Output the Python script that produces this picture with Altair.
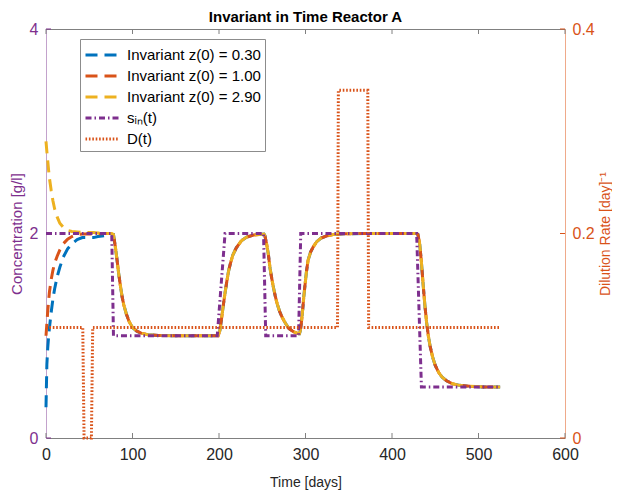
import altair as alt
import pandas as pd

# ---------------- values ----------------
head_t = [0, 1, 2, 3, 4, 6, 8, 10, 13, 16, 20, 25, 30, 36, 42, 55, 60, 68, 76]
blue_head = [0.30, 0.72, 0.88, 0.99, 1.08, 1.23, 1.36, 1.46, 1.58, 1.67, 1.77, 1.85, 1.90, 1.94,
             1.96, 1.96, 1.97, 1.98, 1.99]
orange_head = [1.00, 1.12, 1.24, 1.34, 1.43, 1.55, 1.64, 1.71, 1.78, 1.84, 1.90, 1.945, 1.97, 1.99,
               1.995, 1.995, 1.997, 2.0, 2.0]
yellow_head = [2.90, 2.80, 2.71, 2.62, 2.54, 2.42, 2.32, 2.24, 2.16, 2.10, 2.06, 2.03, 2.02, 2.015,
               2.01, 2.01, 2.005, 2.0, 2.0]

tail_t = [78, 80, 82, 84, 86, 88, 90, 93, 96, 100, 105, 110, 118, 130, 150, 197, 199, 201, 203, 205,
          207, 209, 211, 213, 216, 220, 226, 232, 240, 252, 253, 255, 257, 259, 261, 263, 265, 267, 270, 273,
          277, 281, 286, 292, 293, 294, 295, 296, 297, 298, 299, 301, 303, 306, 309, 313, 318, 324, 332, 345,
          380, 428, 430, 432, 434, 436, 438, 440, 442, 444, 447, 450, 454, 458, 463, 470, 478, 490, 505, 525]
tail_v = [1.99, 1.88, 1.75, 1.61, 1.49, 1.38, 1.30, 1.21, 1.14, 1.08,
          1.045, 1.025, 1.01, 1.003, 1.0, 1.0, 1.0, 1.05, 1.17, 1.30,
          1.42, 1.53, 1.63, 1.70, 1.79, 1.86, 1.93, 1.965, 1.985, 1.995,
          1.98, 1.90, 1.80, 1.66, 1.56, 1.47, 1.39, 1.32, 1.24, 1.18,
          1.12, 1.07, 1.04, 1.02, 1.02, 1.05, 1.11, 1.19, 1.28, 1.38,
          1.46, 1.62, 1.74, 1.82, 1.87, 1.92, 1.955, 1.975, 1.99, 1.998,
          2.0, 2.0, 1.99, 1.90, 1.72, 1.50, 1.30, 1.13, 1.00, 0.90,
          0.79, 0.71, 0.64, 0.595, 0.56, 0.53, 0.515, 0.505, 0.50, 0.50]

sin_t = [0, 76, 78, 198, 207, 251.5, 254, 292, 294.5, 428.5, 434, 525]
sin_v = [2, 2, 1, 1, 2, 2, 1, 1, 2, 2, 0.5, 0.5]

d_t = [0, 42.5, 44, 52.5, 54, 337, 338, 372, 373, 524]
d_v = [0.108, 0.108, 0, 0, 0.108, 0.108, 0.34, 0.34, 0.108, 0.108]

x_ticks = [0, 100, 200, 300, 400, 500, 600]
yl_ticks = [0, 2, 4]
yr_ticks = [0, 0.2, 0.4]

names = ["Invariant z(0) = 0.30", "Invariant z(0) = 1.00", "Invariant z(0) = 2.90",
         "sᵢₙ(t)", "D(t)"]
colors = ["#0072BD", "#D95319", "#EDB120", "#7E2F8E", "#D95319"]
dashes = [[12, 7], [12, 7], [12, 7], [6, 3, 1.5, 3], [1.6, 1.8]]
widths = [3, 3, 3, 2, 1.8]

# ---------------- layout ----------------
W, H = 519, 409
FONT = "Liberation Sans"
PURPLE = "#7E2F8E"
ORANGE = "#D95319"


def frame(t, v, name):
    return pd.DataFrame({"t": t, "v": v, "series": name, "i": list(range(len(t)))})


x_enc = alt.X("t:Q", scale=alt.Scale(domain=[0, 600], nice=False),
              axis=alt.Axis(values=x_ticks, title="Time [days]", ticks=False, grid=False,
                            labelFlush=False, labelPadding=8, labelFontSize=16, labelFont=FONT,
                            labelColor="#262626", domainColor="#808080", titleFont=FONT,
                            titleFontSize=14, titleFontWeight="normal", titleColor="#262626",
                            titleBaseline="middle", titleY=44))
yl_enc = alt.Y("v:Q", scale=alt.Scale(domain=[0, 4], nice=False),
               axis=alt.Axis(orient="left", values=yl_ticks, title="Concentration [g/l]", ticks=False,
                             grid=False, labelPadding=8, labelFontSize=16, labelFont=FONT,
                             labelColor=PURPLE, domainColor="#c3a2cc", titleFont=FONT,
                             titleFontSize=15, titleFontWeight="normal", titleColor=PURPLE,
                             titleBaseline="middle", titleX=-30))
yr_enc = alt.Y("v:Q", scale=alt.Scale(domain=[0, 0.4], nice=False),
               axis=alt.Axis(orient="right", values=yr_ticks, format="~g", title="Dilution Rate [day]⁻¹",
                             ticks=False, grid=False, labelPadding=7, labelFontSize=16, labelFont=FONT,
                             labelColor=ORANGE, domainColor="#efaa8a", titleFont=FONT,
                             titleFontSize=14, titleFontWeight="normal", titleColor=ORANGE,
                             titleAngle=270, titleBaseline="middle", titleX=40))

color_enc = alt.Color("series:N", scale=alt.Scale(domain=names, range=colors),
                      legend=alt.Legend(orient="none", legendX=34, legendY=10, title=None,
                                        labelFont=FONT, labelFontSize=15, labelColor="#000000",
                                        labelLimit=300, symbolType="M-1,0H2.2", symbolSize=441,
                                        symbolStrokeWidth=2.5, labelOffset=19, rowPadding=1,
                                        padding=4, fillColor="#ffffff", strokeColor="#8c8c8c"))
dash_enc = alt.StrokeDash("series:N", scale=alt.Scale(domain=names, range=dashes), legend=None)
width_enc = alt.StrokeWidth("series:N", scale=alt.Scale(domain=names, range=widths), legend=None)


def series_layer(df, y_enc):
    return alt.Chart(df).mark_line(strokeCap="butt").encode(
        x=x_enc, y=y_enc, color=color_enc, strokeDash=dash_enc, strokeWidth=width_enc,
        order=alt.Order("i:Q"))


blue = series_layer(frame(head_t + tail_t, blue_head + tail_v, names[0]), yl_enc)
orange = series_layer(frame(head_t + tail_t, orange_head + tail_v, names[1]), yl_enc)
yellow = series_layer(frame(head_t + tail_t, yellow_head + tail_v, names[2]), yl_enc)
sin = series_layer(frame(sin_t, sin_v, names[3]), yl_enc)
dil = series_layer(frame(d_t, d_v, names[4]), yr_enc)

# box and inward ticks
xt = pd.DataFrame({"t": x_ticks})
top_line = alt.Chart(xt).mark_rule(color="#808080", strokeWidth=1).encode(
    x=alt.value(0), x2=alt.value(W), y=alt.value(0.5))
bottom_ticks = alt.Chart(xt).mark_rule(color="#808080", strokeWidth=1).encode(
    x=x_enc, y=alt.value(H), y2=alt.value(H - 5))
top_ticks = alt.Chart(xt).mark_rule(color="#808080", strokeWidth=1).encode(
    x=x_enc, y=alt.value(0), y2=alt.value(5))
yl_tick = alt.Chart(pd.DataFrame({"v": yl_ticks})).mark_rule(color=PURPLE, strokeWidth=1).encode(
    y=yl_enc, x=alt.value(0), x2=alt.value(5))
yr_tick = alt.Chart(pd.DataFrame({"v": yr_ticks})).mark_rule(color=ORANGE, strokeWidth=1).encode(
    y=yr_enc, x=alt.value(W - 5), x2=alt.value(W))

left = alt.layer(top_line, bottom_ticks, top_ticks, yl_tick, blue, orange, yellow, sin)
right = alt.layer(dil, yr_tick)

chart = alt.layer(left, right).resolve_scale(y="independent").properties(
    width=W, height=H,
    title=alt.TitleParams("Invariant in Time Reactor A", font=FONT, fontSize=15, fontWeight="bold",
                          color="#000000", anchor="middle", offset=-4),
    padding={"left": 38, "top": 21, "right": 47, "bottom": 52},
    autosize=alt.AutoSizeParams(type="none"),
).configure_view(stroke=None).configure(background="#ffffff")

chart.save("out.html", embed_options={"renderer": "svg", "actions": False})
